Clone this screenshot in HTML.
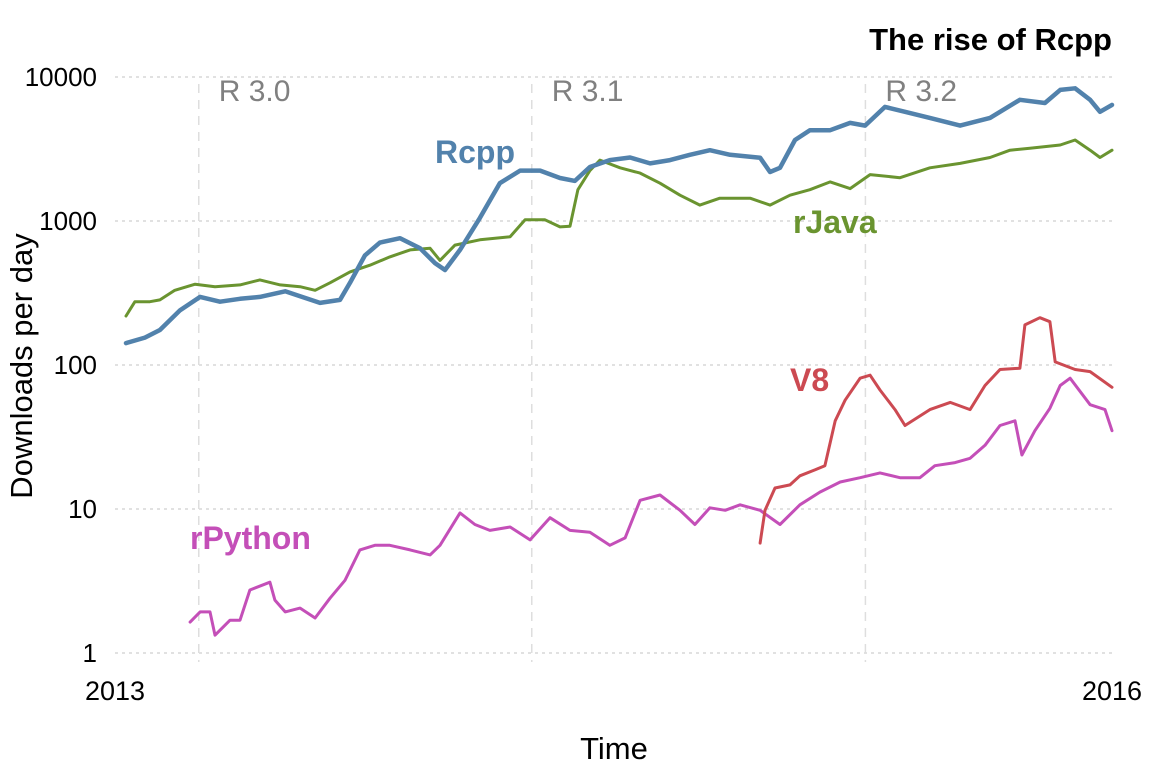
<!DOCTYPE html>
<html><head><meta charset="utf-8"><style>
html,body{margin:0;padding:0;background:#fff}
svg{display:block;font-family:"Liberation Sans",Arial,sans-serif}
</style></head><body>
<svg id="chart" width="1152" height="768">
<g id="grid"></g>
<g id="series"></g>
<g id="labels"></g>
<text x="1112" y="50" text-anchor="end" font-size="31" font-weight="bold" fill="#000">The rise of Rcpp</text>
<text x="614" y="759" text-anchor="middle" font-size="31" fill="#000">Time</text>
<text transform="translate(32,366) rotate(-90)" text-anchor="middle" font-size="31" fill="#000">Downloads per day</text>
</svg>
<script>
// data (time = years since 2013-01-01)
const yTicks = [1, 10, 100, 1000, 10000];
const xTickYears = [0, 3];
const xTickLabels = ["2013", "2016"];
const releaseYears = [0.252, 1.254, 2.258];
const releaseLabels = ["R 3.0", "R 3.1", "R 3.2"];

const rcppT = [0.033,0.09,0.135,0.196,0.256,0.316,0.376,0.436,0.512,0.557,0.617,0.677,0.707,0.752,0.797,0.858,0.918,0.963,0.993,1.038,1.098,1.158,1.219,1.279,1.339,1.384,1.429,1.489,1.55,1.61,1.67,1.73,1.79,1.851,1.941,1.971,2.001,2.046,2.091,2.152,2.212,2.257,2.317,2.377,2.452,2.543,2.633,2.723,2.798,2.844,2.889,2.934,2.964,3.0];
const rcppV = [142,155,175,240,297,275,288,297,325,300,270,283,372,577,708,760,646,510,457,630,1050,1830,2240,2240,1990,1900,2370,2650,2760,2510,2650,2880,3100,2880,2750,2190,2340,3650,4270,4270,4800,4600,6200,5730,5200,4600,5200,6940,6600,8130,8350,6940,5730,6400];

const rjavaT = [0.033,0.06,0.105,0.135,0.18,0.241,0.301,0.376,0.436,0.497,0.557,0.602,0.647,0.707,0.767,0.827,0.888,0.948,0.978,1.023,1.098,1.189,1.234,1.294,1.339,1.369,1.393,1.429,1.459,1.52,1.58,1.64,1.70,1.76,1.82,1.911,1.971,2.031,2.091,2.152,2.212,2.272,2.362,2.452,2.543,2.633,2.693,2.753,2.844,2.889,2.934,2.964,3.0];
const rjavaV = [219,275,275,283,330,364,350,360,390,360,350,330,372,443,493,563,630,646,533,680,740,777,1020,1020,910,920,1650,2240,2650,2340,2150,1830,1510,1290,1440,1440,1290,1510,1650,1870,1680,2100,2000,2340,2510,2760,3100,3200,3370,3650,3100,2760,3100];

const v8T = [1.941,1.956,1.986,2.031,2.061,2.106,2.136,2.167,2.197,2.242,2.272,2.302,2.347,2.377,2.452,2.513,2.573,2.618,2.663,2.723,2.738,2.783,2.813,2.829,2.889,2.934,3.0];
const v8V = [5.8,9.8,14,14.7,17,18.7,20,41,57,81,85,67,49,38,49,55,49,72,93,95,190,213,200,105,93,90,70];

const rpyT = [0.226,0.256,0.286,0.301,0.346,0.376,0.406,0.466,0.481,0.512,0.557,0.602,0.647,0.692,0.737,0.782,0.827,0.888,0.948,0.978,1.038,1.083,1.128,1.189,1.249,1.309,1.369,1.429,1.489,1.535,1.58,1.64,1.70,1.745,1.79,1.836,1.881,1.941,2.001,2.061,2.121,2.182,2.242,2.302,2.362,2.422,2.467,2.528,2.573,2.618,2.663,2.708,2.729,2.768,2.813,2.844,2.874,2.934,2.979,3.0];
const rpyV = [1.64,1.93,1.93,1.33,1.69,1.69,2.74,3.1,2.33,1.93,2.05,1.75,2.4,3.2,5.2,5.6,5.6,5.2,4.8,5.6,9.4,7.8,7.1,7.5,6.1,8.7,7.1,6.9,5.6,6.3,11.5,12.5,9.8,7.8,10.2,9.8,10.7,9.8,7.8,10.7,13.1,15.4,16.5,17.8,16.5,16.5,20,21,22.5,27.7,38,41,23.7,35,50,72,81,53,49,35];

const X0 = 115, X1 = 1112;
const xs = t => X0 + (X1 - X0) * t / 3;
const ys = v => 653 - 144 * Math.log10(v);
const NS = "http://www.w3.org/2000/svg";
function mk(tag, attrs, parent, text) {
  const e = document.createElementNS(NS, tag);
  for (const k in attrs) e.setAttribute(k, attrs[k]);
  if (text !== undefined) e.textContent = text;
  parent.appendChild(e);
  return e;
}
const grid = document.getElementById('grid');
const labels = document.getElementById('labels');
const series = document.getElementById('series');

yTicks.forEach(v => {
  const l = mk('line', {x1: X0, x2: X1, y1: ys(v), y2: ys(v), stroke: '#cfcfcf', 'stroke-width': 1.2, 'stroke-dasharray': '3,4'}, grid);
  
  
  const t = mk('text', {x: 97, y: ys(v) + 9, 'text-anchor': 'end', 'font-size': 26, fill: '#000'}, labels, String(v));
  
  
});
xTickYears.forEach((y, i) => {
  const t = mk('text', {x: xs(y), y: 700, 'text-anchor': 'middle', 'font-size': 27, fill: '#000'}, labels, xTickLabels[i]);
  
  
});
releaseYears.forEach((y, i) => {
  const l = mk('line', {x1: xs(y), x2: xs(y), y1: 84, y2: 662, stroke: '#dedede', 'stroke-width': 1.5, 'stroke-dasharray': '9,7'}, grid);
  
  
  const t = mk('text', {x: xs(y) + 20, y: 101, 'font-size': 30, fill: '#808080'}, labels, releaseLabels[i]);
  
  
});

function drawLine(T, V, color, w, name) {
  const d = T.map((t, i) => (i ? 'L' : 'M') + xs(t).toFixed(1) + ',' + ys(V[i]).toFixed(1)).join('');
  const p = mk('path', {d: d, fill: 'none', stroke: color, 'stroke-width': w, 'stroke-linejoin': 'round', 'stroke-linecap': 'round'}, series);
  
  
}
drawLine(rpyT, rpyV, '#c44fb8', 3, 'rpython-line');
drawLine(v8T, v8V, '#cc4a52', 3, 'v8-line');
drawLine(rjavaT, rjavaV, '#6a9430', 3, 'rjava-line');
drawLine(rcppT, rcppV, '#5282ac', 4.5, 'rcpp-line');

const seriesLabels = [["Rcpp", 435, 163, '#5282ac'], ["rJava", 793, 233, '#6a9430'], ["V8", 790, 391, '#cc4a52'], ["rPython", 190, 549, '#c44fb8']];
seriesLabels.forEach(s => {
  const t = mk('text', {x: s[1], y: s[2], 'font-size': 32, 'font-weight': 'bold', fill: s[3]}, labels, s[0]);
  
  
});
</script>
</body></html>
